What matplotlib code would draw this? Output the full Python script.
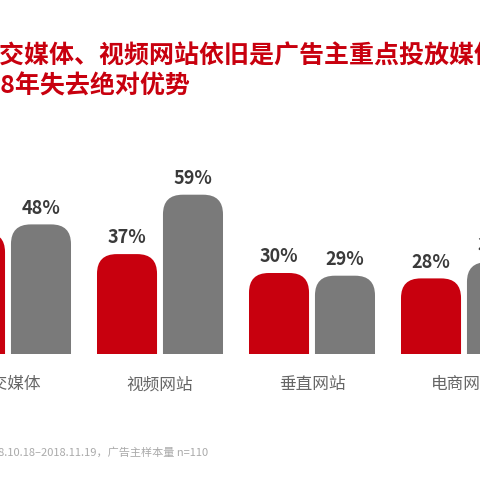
import matplotlib.pyplot as plt
from matplotlib.patches import FancyBboxPatch

plt.rcParams['font.family'] = ['Noto Sans CJK SC', 'DejaVu Sans']

categories = ['社交媒体', '视频网站', '垂直网站', '电商网站']
red_vals = [45, 37, 30, 28]
grey_vals = [48, 59, 29, 34]
RED = '#c8000e'
GREY = '#7a7a7a'

fig = plt.figure(figsize=(4.8, 4.8), dpi=100)
ax = fig.add_axes([0, 126 / 480, 1, 174 / 480])
ax.set_xlim(-8 / 152, 472 / 152)
ax.set_ylim(0, 174 / 2.7)
ax.axis('off')

w = 0.395
off = 0.217
r = 0.13
asp = 56
for i, (rv, gv) in enumerate(zip(red_vals, grey_vals)):
    for xc, v, c in [(i - off, rv, RED), (i + off, gv, GREY)]:
        p = FancyBboxPatch((xc - w / 2, -10), w, v + 10,
                           boxstyle=f'round,pad=0,rounding_size={r}',
                           mutation_aspect=asp, fc=c, ec='none', clip_on=True)
        ax.add_patch(p)
        ax.text(xc, v + 2.5, f'{v}%', ha='center', va='bottom',
                fontsize=13, fontweight='semibold', color='#3a3a3a')
    fig.text((8 + 152 * i) / 480, 1 - 385 / 480, categories[i], ha='center',
             va='center', fontsize=12, color='#666666')

fig.text(-25 / 480, 1 - 56 / 480, '社交媒体、视频网站依旧是广告主重点投放媒体，', ha='left',
         va='center', fontsize=18, fontweight='bold', color=RED)
fig.text(-44 / 480, 1 - 86 / 480, '2018年失去绝对优势', ha='left',
         va='center', fontsize=18, fontweight='bold', color=RED)
fig.text(208 / 480, 1 - 452 / 480, '样本时间：2018.10.18–2018.11.19，广告主样本量 n=110',
         ha='right', va='center', fontsize=8, style='italic', color='#aaaaaa')

fig.savefig('out.png', dpi=100)
